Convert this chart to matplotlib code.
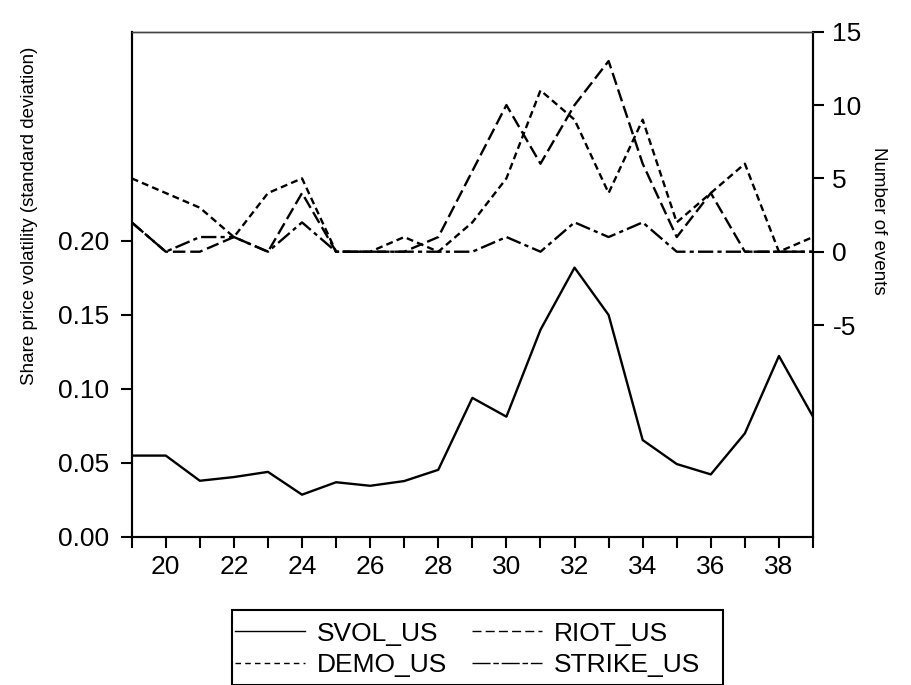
import matplotlib
matplotlib.use("Agg")
import matplotlib.pyplot as plt
from matplotlib.lines import Line2D
from matplotlib.patches import Rectangle
from matplotlib.ticker import FixedLocator, FormatStrFormatter

plt.rcParams['font.family'] = ['Liberation Sans', 'DejaVu Sans']
plt.rcParams['lines.scale_dashes'] = False

# ---- data ----
years = list(range(19, 40))
svol_us = [0.055, 0.055, 0.038, 0.0405, 0.044, 0.0286, 0.037, 0.0346, 0.0378, 0.0454,
           0.094, 0.0813, 0.140, 0.182, 0.150, 0.0655, 0.0493, 0.0423, 0.070, 0.1223, 0.0813]
demo_us = [5, 4, 3, 1, 4, 5, 0, 0, 1, 0, 2, 5, 11, 9, 4, 9, 2, 4, 6, 0, 1]
riot_us = [2, 0, 0, 1, 0, 4, 0, 0, 0, 1, 5.5, 10, 6, 10, 13, 6, 1, 4, 0, 0, 0]
strike_us = [2, 0, 1, 1, 0, 2, 0, 0, 0, 0, 0, 1, 0, 2, 1, 2, 0, 0, 0, 0, 0]

x_labels = [20, 22, 24, 26, 28, 30, 32, 34, 36, 38]
left_ticks = [0.00, 0.05, 0.10, 0.15, 0.20]
right_ticks = [15, 10, 5, 0, -5]

W, H = 912, 685
fig = plt.figure(figsize=(W / 100, H / 100), dpi=100)
ax = fig.add_axes([131.7 / W, 1 - 537 / H, (813 - 131.7) / W, (537 - 31.7) / H])
ax2 = ax.twinx()

ax.plot(years, svol_us, color='black', lw=1.7)
ax2.plot(years, demo_us, color='black', lw=1.7, dashes=(5, 3))
ax2.plot(years, riot_us, color='black', lw=1.7, dashes=(9, 3.5))
ax2.plot(years, strike_us, color='black', lw=1.7, dashes=(11, 3, 3, 3))

ax.set_xlim(19, 39)
ax.set_ylim(0, 0.3414)
ax2.set_ylim(-19.45, 15)

ax.xaxis.set_major_locator(FixedLocator(x_labels))
ax.xaxis.set_minor_locator(FixedLocator([v for v in years if v not in x_labels]))
ax.yaxis.set_major_locator(FixedLocator(left_ticks))
ax.yaxis.set_major_formatter(FormatStrFormatter('%.2f'))
ax2.yaxis.set_major_locator(FixedLocator(right_ticks))
ax2.yaxis.set_major_formatter(FormatStrFormatter('%d'))

for a in (ax, ax2):
    for s in a.spines.values():
        s.set_linewidth(1.5)
ax2.spines['top'].set_linewidth(1.0)
ax2.spines['top'].set_color('#444444')
ax.spines['top'].set_linewidth(1.0)
ax.spines['top'].set_color('#444444')

ax.tick_params(axis='x', which='both', direction='out', length=8, width=1.5,
               labelsize=19, pad=5)
ax.tick_params(axis='y', direction='out', length=8, width=1.5, labelsize=19, pad=8)
ax2.tick_params(axis='y', direction='out', length=8, width=1.5, labelsize=19, pad=6)

ax.set_ylabel('Share price volatility (standard deviation)', fontsize=13.5)
ax.yaxis.set_label_coords(-0.1375, 0.635)
ax2.set_ylabel('Number of events', fontsize=13.5, rotation=270, va='bottom')
ax2.yaxis.set_label_coords(1.0837, 0.625)

handles = [
    Line2D([], [], color='black', lw=1.0),
    Line2D([], [], color='black', lw=1.0, dashes=(4, 3)),
    Line2D([], [], color='black', lw=1.0, dashes=(6.5, 3)),
    Line2D([], [], color='black', lw=1.0, dashes=(13, 2, 4, 2)),
]
names = ['SVOL_US', 'DEMO_US', 'RIOT_US', 'STRIKE_US']
leg = fig.legend(handles, names, loc='upper left', bbox_to_anchor=(232.4 / W, 1 - 619 / H),
                 ncol=2, fontsize=19, frameon=False,
                 borderpad=0.1, handlelength=2.65, handletextpad=0.45, columnspacing=0.95,
                 labelspacing=0.28, borderaxespad=0)

fig.patches.append(Rectangle((231.7 / W, 0), (723 - 231.7) / W, 1 - 610 / H,
                             transform=fig.transFigure, fill=False, edgecolor='black',
                             linewidth=1.5, figure=fig))

fig.savefig('out.png', dpi=100)
